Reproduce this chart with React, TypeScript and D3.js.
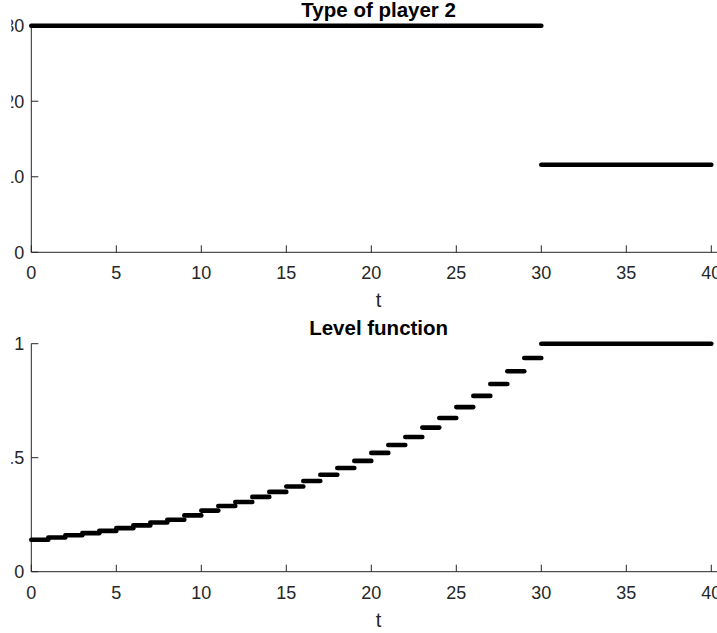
import * as d3 from "d3";

// top panel: type of player 2
const typeStarts = [0, 30];
const typeEnds = [30, 40];
const typeValues = [30, 11.6];

// bottom panel: level function, one step per unit of t
const levelStarts = [
  0, 1, 2, 3, 4, 5, 6, 7, 8, 9, 10, 11, 12, 13, 14, 15, 16, 17, 18, 19, 20,
  21, 22, 23, 24, 25, 26, 27, 28, 29, 30,
];
const levelEnds = [
  1, 2, 3, 4, 5, 6, 7, 8, 9, 10, 11, 12, 13, 14, 15, 16, 17, 18, 19, 20, 21,
  22, 23, 24, 25, 26, 27, 28, 29, 30, 40,
];
const levelValues = [
  0.14, 0.15, 0.16, 0.169, 0.179, 0.191, 0.203, 0.216, 0.228, 0.247, 0.268,
  0.288, 0.306, 0.328, 0.35, 0.374, 0.398, 0.425, 0.455, 0.486, 0.521, 0.556,
  0.591, 0.632, 0.674, 0.722, 0.771, 0.823, 0.879, 0.937, 1.0,
];

const xTicks = [0, 5, 10, 15, 20, 25, 30, 35, 40];
const typeTicks = [0, 10, 20, 30];
const levelTicks = [0, 0.5, 1];
const levelTickLabels = ["0", "0.5", "1"];

const W = 717;
const H = 633;
const left = 31.3;
const axisRight = 726;
const font = "'Liberation Sans', Arial, Helvetica, sans-serif";
const axisColor = "#262626";

const x = d3.scaleLinear().domain([0, 40]).range([left, 711.3]);
const centerX = (left + axisRight) / 2;

type PanelProps = {
  title: string;
  y: d3.ScaleLinear<number, number>;
  ticks: number[];
  tickLabels: string[];
  starts: number[];
  ends: number[];
  values: number[];
  clipId: string;
};

function Panel({ title, y, ticks, tickLabels, starts, ends, values, clipId }: PanelProps) {
  const [y0, y1] = y.range();
  return (
    <g>
      <defs>
        <clipPath id={clipId}>
          <rect x={11.3} y={0} width={W} height={H} />
        </clipPath>
      </defs>
      {/* axis lines */}
      <line x1={left} x2={axisRight} y1={y0} y2={y0} stroke={axisColor} strokeWidth={1} />
      <line x1={left} x2={left} y1={y0} y2={y1} stroke={axisColor} strokeWidth={1} />
      {xTicks.map((t) => (
        <g key={"x" + t}>
          <line x1={x(t)} x2={x(t)} y1={y0} y2={y0 - 7} stroke={axisColor} strokeWidth={1} />
          <text
            x={x(t)}
            y={y0 + 27}
            textAnchor="middle"
            fontFamily={font}
            fontSize={18}
            fill={axisColor}
          >
            {t}
          </text>
        </g>
      ))}
      <g clipPath={`url(#${clipId})`}>
        {ticks.map((t, i) => (
          <g key={"y" + t}>
            <line x1={left} x2={left + 7} y1={y(t)} y2={y(t)} stroke={axisColor} strokeWidth={1} />
            <text
              x={24.3}
              y={y(t) + 6.5}
              textAnchor="end"
              fontFamily={font}
              fontSize={18}
              fill={axisColor}
            >
              {tickLabels[i]}
            </text>
          </g>
        ))}
      </g>
      <text
        x={centerX}
        y={y0 + 55}
        textAnchor="middle"
        fontFamily={font}
        fontSize={20}
        fill={axisColor}
      >
        t
      </text>
      <text
        x={centerX}
        y={y1 - 8.7}
        textAnchor="middle"
        fontFamily={font}
        fontSize={20.5}
        fontWeight="bold"
        fill="#000"
      >
        {title}
      </text>
      {values.map((v, i) => (
        <line
          key={"s" + i}
          x1={x(starts[i])}
          x2={x(ends[i])}
          y1={y(v)}
          y2={y(v)}
          stroke="#000"
          strokeWidth={4.6}
          strokeLinecap="round"
        />
      ))}
    </g>
  );
}

export default function App() {
  const yType = d3.scaleLinear().domain([0, 30]).range([252.3, 25.7]);
  const yLevel = d3.scaleLinear().domain([0, 1]).range([571.7, 343.7]);
  return (
    <svg
      width={W}
      height={H}
      viewBox={`0 0 ${W} ${H}`}
      style={{ position: "absolute", left: 0, top: 0, background: "#fff" }}
    >
      <rect width={W} height={H} fill="#fff" />
      <Panel
        title="Type of player 2"
        y={yType}
        ticks={typeTicks}
        tickLabels={typeTicks.map(String)}
        starts={typeStarts}
        ends={typeEnds}
        values={typeValues}
        clipId="clipTop"
      />
      <Panel
        title="Level function"
        y={yLevel}
        ticks={levelTicks}
        tickLabels={levelTickLabels}
        starts={levelStarts}
        ends={levelEnds}
        values={levelValues}
        clipId="clipBottom"
      />
    </svg>
  );
}
